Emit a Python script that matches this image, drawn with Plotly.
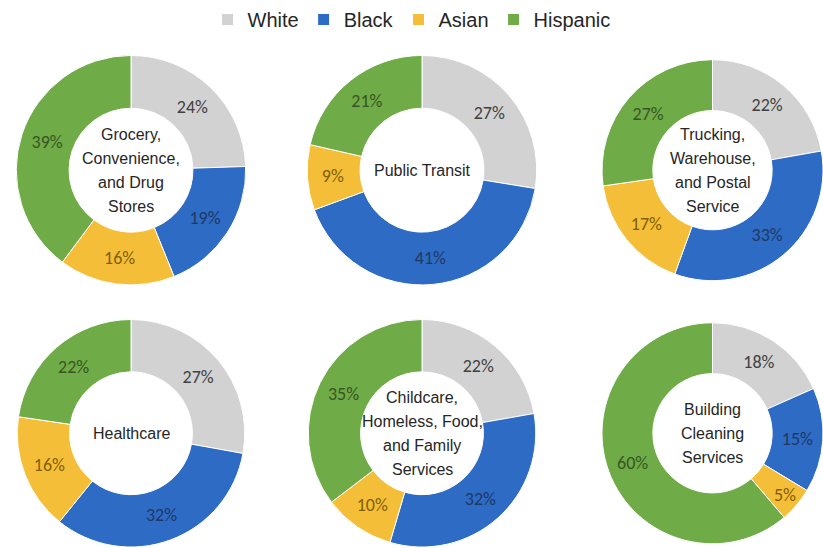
import plotly.graph_objects as go

groups = ["White", "Black", "Asian", "Hispanic"]
colors = ["#D2D2D2", "#2D6BC4", "#F5BE38", "#6FAB46"]
text_colors = ["#404040", "#1F3864", "#7F6000", "#375623"]

sectors = [
    ["Grocery,", "Convenience,", "and Drug", "Stores"],
    ["Public Transit"],
    ["Trucking,", "Warehouse,", "and Postal", "Service"],
    ["Healthcare"],
    ["Childcare,", "Homeless, Food,", "and Family", "Services"],
    ["Building", "Cleaning", "Services"],
]
white = [24, 27, 22, 27, 22, 18]
black = [19, 41, 33, 32, 32, 15]
asian = [16, 9, 17, 16, 10, 5]
hispanic = [39, 21, 27, 22, 35, 60]

W, H = 823, 548
# pixel layout of the 2x3 grid (left, right, top, bottom)
col_px = [(16, 246), (307, 537), (602, 823)]
row_px = [(50, 282), (317, 547)]
LINE = 24

fig = go.Figure()
for i, lines in enumerate(sectors):
    r, c = divmod(i, 3)
    x0, x1 = col_px[c]
    y0, y1 = row_px[r]
    dom_x = [x0 / W, x1 / W]
    dom_y = [1 - y1 / H, 1 - y0 / H]
    vals = [white[i], black[i], asian[i], hispanic[i]]
    fig.add_trace(go.Pie(
        labels=groups,
        values=vals,
        hole=0.54,
        sort=False,
        direction="clockwise",
        rotation=0,
        domain=dict(x=dom_x, y=dom_y),
        marker=dict(colors=colors, line=dict(color="white", width=1)),
        texttemplate="%{value}%",
        textposition="inside",
        insidetextorientation="horizontal",
        textfont=dict(family="Carlito, Calibri, Liberation Sans", size=18, color=text_colors),
        showlegend=(i == 0),
        hoverinfo="label+value",
    ))
    cx = (dom_x[0] + dom_x[1]) / 2
    cy = (dom_y[0] + dom_y[1]) / 2
    n = len(lines)
    for k, line in enumerate(lines):
        fig.add_annotation(
            x=cx, y=cy, xref="paper", yref="paper",
            xanchor="center", yanchor="middle",
            yshift=-(k - (n - 1) / 2) * LINE,
            text=line, showarrow=False,
            font=dict(family="Liberation Sans, Arial", size=16, color="#262626"),
        )

fig.update_layout(
    width=W, height=H,
    margin=dict(l=0, r=0, t=0, b=0),
    paper_bgcolor="white",
    plot_bgcolor="white",
    uniformtext=dict(minsize=18, mode="show"),
    legend=dict(
        orientation="h",
        x=0.5, xanchor="center",
        y=1.012, yanchor="top",
        font=dict(family="Liberation Sans, Arial", size=20, color="#262626"),
        itemwidth=30,
        traceorder="normal",
    ),
)

fig.write_html("out.html")
